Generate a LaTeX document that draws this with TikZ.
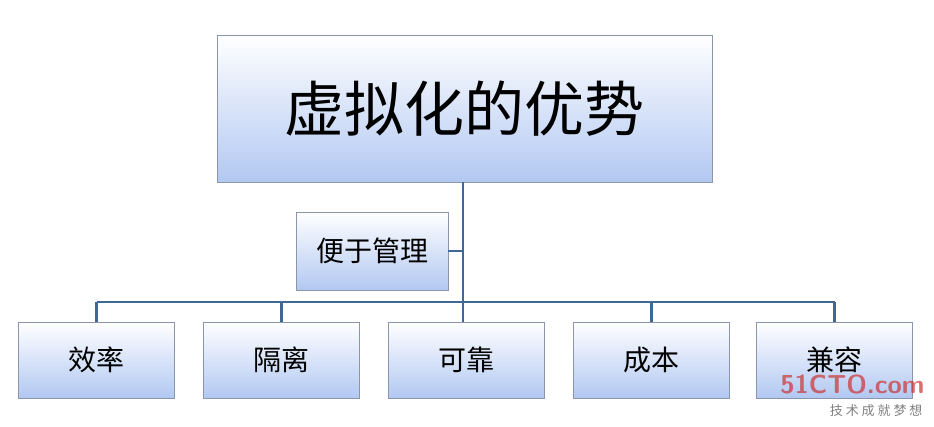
\documentclass[tikz,border=0pt]{standalone}
\usepackage{fontspec}
\newfontfamily\cjk{Noto Sans CJK SC}
\definecolor{bfill}{RGB}{178,200,242}
\definecolor{bline}{RGB}{64,104,150}
\definecolor{bdr}{RGB}{140,150,170}
\begin{document}
\begin{tikzpicture}[x=1pt,y=-1pt,
 bx/.style={draw=bdr, line width=0.8pt, top color=white, bottom color=bfill, inner sep=0pt, font=\cjk},
 ln/.style={draw=bline, line width=2.4pt}]
\useasboundingbox (0,0) rectangle (934,426);
\node[bx, minimum width=495pt, minimum height=147pt, font=\cjk\fontsize{60}{66}\selectfont] (top) at (464.5,108.5) {虚拟化的优势};
\node[bx, minimum width=152pt, minimum height=78pt, font=\cjk\fontsize{28}{32}\selectfont] (mg) at (372,251) {便于管理};
\foreach \n/\x/\t in {a/96.5/效率,b/281.5/隔离,c/466.5/可靠,d/651.5/成本,e/834.5/兼容}{
 \node[bx, minimum width=156pt, minimum height=76pt, font=\cjk\fontsize{28}{32}\selectfont] (\n) at (\x,360) {\t};
}
\coordinate (j) at (463,302);
\coordinate (l) at (96.5,302);
\coordinate (r) at (834.5,302);
\draw[ln] (top.south -| j) -- (j);
\draw[ln] (mg.east) -- (mg.east -| j);
\draw[ln] (l) -- (r);
\foreach \n in {a,b,d,e}{\draw[ln] (\n.north |- j) -- (\n.north);}
\draw[ln] (c.north -| j) -- (j);
\node[font=\sffamily\bfseries\fontsize{26}{28}\selectfont, text=red!60!gray, opacity=0.7, anchor=east] (wm) at (928,384) {51CTO.com};
\node[font=\cjk\fontsize{13}{15}\selectfont, text=gray, anchor=east] (wm2) at (926,411) {技 术 成 就 梦 想};
\end{tikzpicture}
\end{document}
